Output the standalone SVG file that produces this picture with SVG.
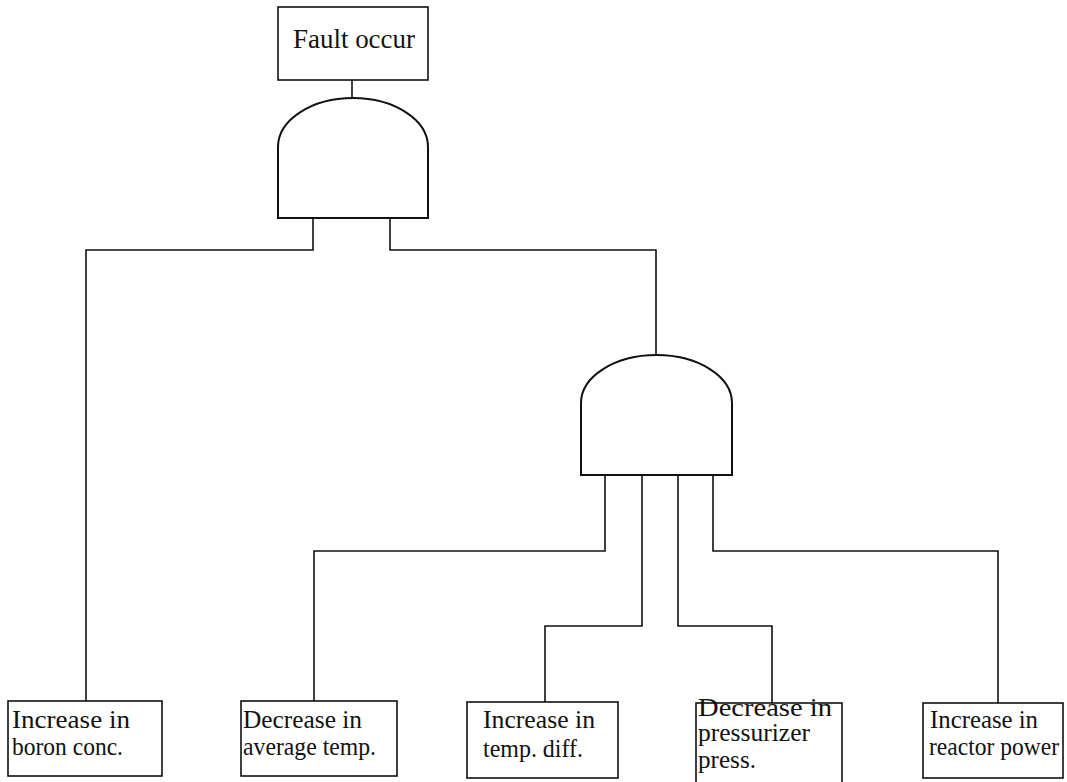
<svg xmlns="http://www.w3.org/2000/svg" width="1067" height="782" viewBox="0 0 1067 782">
<style>
.box{fill:#fff;stroke:#111;stroke-width:1.6}
.gate{fill:#fff;stroke:#111;stroke-width:2}
.wire{fill:none;stroke:#111;stroke-width:1.6}
text{font-family:"Liberation Serif","Times New Roman",serif;font-size:25px;fill:#111}
</style>
<rect width="1067" height="782" fill="#fff"/>
<g id="connectors">
<path class="wire" d="M352,80 V98"/>
<path class="wire" d="M313,218 V250 H86 V701"/>
<path class="wire" d="M390,218 V250 H656 V355"/>
<path class="wire" d="M605,475 V551 H314 V701"/>
<path class="wire" d="M642,475 V626 H545 V702"/>
<path class="wire" d="M678,475 V626 H772 V703"/>
<path class="wire" d="M713,475 V551 H998 V703"/>
</g>
<g id="top">
<rect class="box" x="278" y="7" width="150" height="73"/>
<text x="293" y="48" style="font-size:27px" textLength="122" lengthAdjust="spacingAndGlyphs">Fault occur</text>
</g>
<g id="gate1">
<path class="gate" d="M278,218 V147 A75,49 0 0 1 428,147 V218 Z"/>
</g>
<g id="gate2">
<path class="gate" d="M581,475 V403 A75.5,48 0 0 1 732,403 V475 Z"/>
</g>
<g id="boron">
<rect class="box" x="8" y="701" width="154" height="75"/>
<text x="12" y="728" textLength="118" lengthAdjust="spacingAndGlyphs">Increase in</text>
<text x="12" y="755" textLength="111" lengthAdjust="spacingAndGlyphs">boron conc.</text>
</g>
<g id="avgtemp">
<rect class="box" x="241" y="701" width="156" height="75"/>
<text x="243" y="728" textLength="119" lengthAdjust="spacingAndGlyphs">Decrease in</text>
<text x="243" y="755" textLength="133" lengthAdjust="spacingAndGlyphs">average temp.</text>
</g>
<g id="tempdiff">
<rect class="box" x="467" y="702" width="151" height="76"/>
<text x="483" y="728" textLength="112" lengthAdjust="spacingAndGlyphs">Increase in</text>
<text x="483" y="757" textLength="100" lengthAdjust="spacingAndGlyphs">temp. diff.</text>
</g>
<g id="pressurizer">
<rect class="box" x="696" y="703" width="146" height="85"/>
<text x="698" y="716" textLength="134" lengthAdjust="spacingAndGlyphs">Decrease in</text>
<text x="698" y="741" textLength="112" lengthAdjust="spacingAndGlyphs">pressurizer</text>
<text x="698" y="768" textLength="58" lengthAdjust="spacingAndGlyphs">press.</text>
</g>
<g id="power">
<rect class="box" x="923" y="703" width="140" height="75"/>
<text x="930" y="728" textLength="108" lengthAdjust="spacingAndGlyphs">Increase in</text>
<text x="929" y="755" textLength="130" lengthAdjust="spacingAndGlyphs">reactor power</text>
</g>
</svg>
